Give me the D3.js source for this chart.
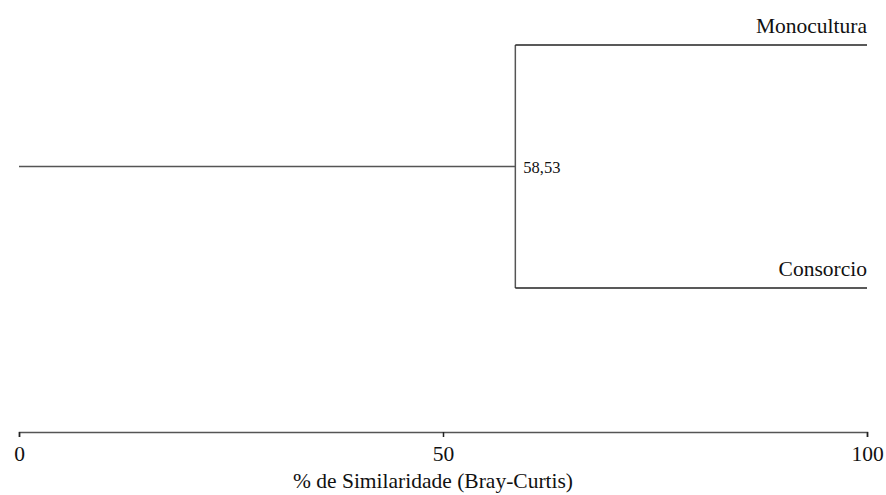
<!DOCTYPE html>
<html>
<head>
<meta charset="utf-8">
<script src="https://cdn.jsdelivr.net/npm/d3@7"></script>
<style>
  html, body { margin: 0; padding: 0; background: #fff; }
  svg { display: block; }
</style>
</head>
<body>
<svg id="chart" width="886" height="495"></svg>
<script>
// Dendrogram data: two groups joined at a Bray-Curtis similarity level
const leaves = ["Monocultura", "Consorcio"];
const joinSimilarity = 58.53;
const joinLabel = "58,53";
const axisTicks = [0, 50, 100];
const axisTitle = "% de Similaridade (Bray-Curtis)";

const serif = "'Liberation Serif'";
const svg = d3.select("#chart");

const x = d3.scaleLinear().domain([0, 100]).range([19, 867]);
const y = d3.scalePoint().domain(leaves).range([45, 288]);
const rootY = (y(leaves[0]) + y(leaves[1])) / 2;
const lineColor = "#555";

const g = svg.append("g");

// Root stem from 0 to the join level
g.append("line")
  .attr("x1", x(0)).attr("x2", x(joinSimilarity))
  .attr("y1", rootY).attr("y2", rootY)
  .attr("stroke", lineColor).attr("stroke-width", 1.5);

// Vertical connector at the join level
g.append("line")
  .attr("x1", x(joinSimilarity)).attr("x2", x(joinSimilarity))
  .attr("y1", y(leaves[0])).attr("y2", y(leaves[1]))
  .attr("stroke", lineColor).attr("stroke-width", 1.5);

// Leaf branches out to 100 %
g.selectAll("line.leaf").data(leaves).enter().append("line")
  .attr("class", "leaf")
  .attr("x1", x(joinSimilarity)).attr("x2", x(100))
  .attr("y1", d => y(d)).attr("y2", d => y(d))
  .attr("stroke", "#222").attr("stroke-width", 1.5);

// Leaf names, right aligned above each branch
g.selectAll("text.leaf").data(leaves).enter().append("text")
  .attr("class", "leaf")
  .attr("x", x(100))
  .attr("y", d => y(d) - 12)
  .attr("text-anchor", "end")
  .attr("fill", "#111")
  .style("font-family", serif)
  .style("font-size", "21.5px")
  .text(d => d);

// Similarity value at the node
g.append("text")
  .attr("x", x(joinSimilarity) + 8)
  .attr("y", rootY + 6)
  .attr("fill", "#111")
  .style("font-family", serif)
  .style("font-size", "16.5px")
  .text(joinLabel);

// Bottom axis
const axis = d3.axisBottom(x).tickValues(axisTicks).tickFormat(d3.format("d"))
  .tickSizeOuter(0).tickSize(5).tickPadding(9);
const ax = svg.append("g").attr("transform", "translate(0,432)").call(axis);
ax.attr("font-family", null);
ax.select(".domain").attr("stroke", lineColor).attr("stroke-width", 1.5);
ax.selectAll(".tick line").attr("stroke", "#222").attr("stroke-width", 1.5);
ax.selectAll(".tick text")
  .style("font-family", serif)
  .style("font-size", "21.5px").attr("fill", "#111");

svg.append("text")
  .attr("x", x(50) - 10)
  .attr("y", 488)
  .attr("text-anchor", "middle")
  .attr("fill", "#111")
  .style("font-family", serif)
  .style("font-size", "21.5px")
  .text(axisTitle);
</script>
</body>
</html>
